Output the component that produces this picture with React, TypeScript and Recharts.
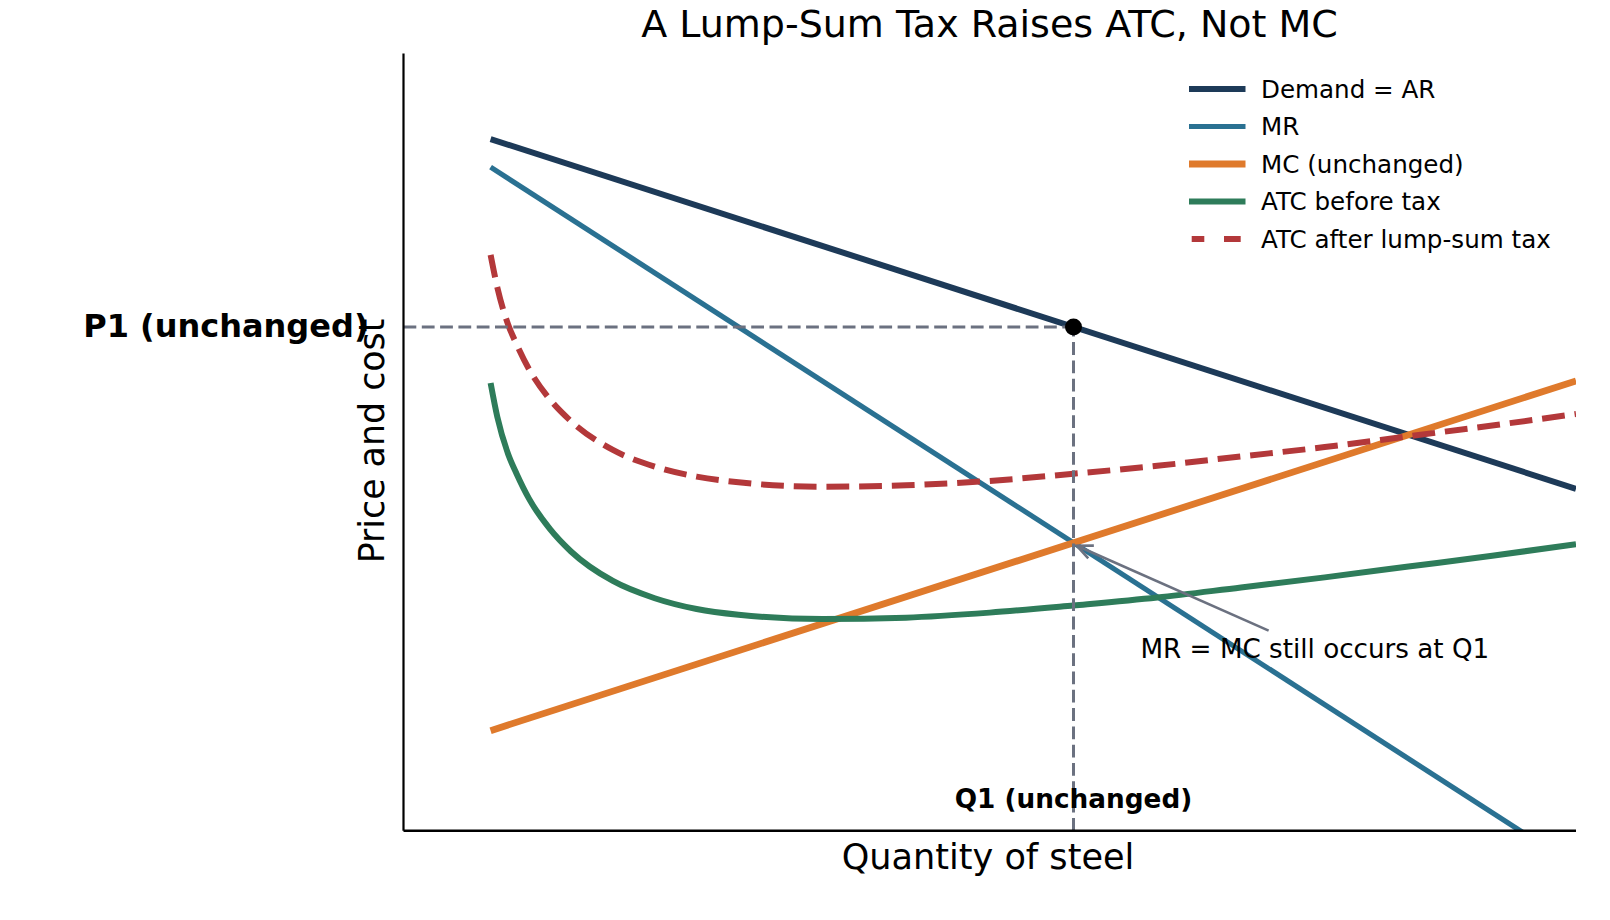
import React from 'react';
import { ComposedChart, Line, XAxis, YAxis, ReferenceLine, ReferenceDot } from 'recharts';

// Quantity and price ranges of the diagram
const qDomain: [number, number] = [0, 14];
const pDomain: [number, number] = [0, 108];

// Profit-maximising output and price (MR = MC)
const Q1 = 8;
const P1 = 70;

// Straight-line schedules (endpoints)
const demandQ = [1.04, 14];
const demandP = [96.1, 47.5];
const mrQ = [1.04, 14];
const mrP = [92.2, -5];
const mcQ = [1.04, 14];
const mcP = [13.9, 62.5];

// Average total cost, before and after the lump-sum tax
const atcQ = [1.04, 1.12, 1.25, 1.35, 1.5, 1.75, 2, 2.5, 3, 3.5, 4, 5, 6, 7, 8, 9, 10, 11, 12, 13, 14];
const atcBefore = [62.2, 57.5, 52.3, 49.6, 46.1, 41.9, 38.8, 34.7, 32.3, 30.8, 30.0, 29.4, 29.6, 30.3, 31.3, 32.4, 33.8, 35.2, 36.7, 38.2, 39.8];
const atcAfter = [80.0, 75.5, 70.3, 67.6, 64.1, 59.9, 56.9, 52.9, 50.6, 49.2, 48.4, 47.8, 48.0, 48.6, 49.6, 50.7, 52.0, 53.3, 54.8, 56.3, 57.9];

// Annotation anchors (data coordinates)
const arrowTail = { x: 10.33, y: 27.8 };
const arrowTip = { x: 8.04, y: 39.6 };
const noteAt = { x: 8.8, y: 24.0 };
const q1LabelAt = { x: Q1, y: 3.15 };

const TITLE = 'A Lump-Sum Tax Raises ATC, Not MC';
const X_LABEL = 'Quantity of steel';
const Y_LABEL = 'Price and cost';
const P1_LABEL = 'P1 (unchanged)';
const Q1_LABEL = 'Q1 (unchanged)';
const NOTE = 'MR = MC still occurs at Q1';

const COLORS = {
  demand: '#1d3a58',
  mr: '#2a7192',
  mc: '#df7a2c',
  atc: '#2e7c5a',
  atcTax: '#b3383a',
  guide: '#6b7180',
};

const legendItems = [
  { label: 'Demand = AR', color: COLORS.demand, width: 6, dashed: false },
  { label: 'MR', color: COLORS.mr, width: 5.2, dashed: false },
  { label: 'MC (unchanged)', color: COLORS.mc, width: 6.8, dashed: false },
  { label: 'ATC before tax', color: COLORS.atc, width: 6, dashed: false },
  { label: 'ATC after lump-sum tax', color: COLORS.atcTax, width: 6, dashed: true },
];

const zip = (qs: number[], ps: number[]) => qs.map((q, i) => ({ q, p: ps[i] }));

const demandData = zip(demandQ, demandP);
const mrData = zip(mrQ, mrP);
const mcData = zip(mcQ, mcP);
const atcData = zip(atcQ, atcBefore);
const atcTaxData = zip(atcQ, atcAfter);

const FONT = '"DejaVu Sans", Verdana, sans-serif';

const W = 1610;
const H = 920;
const Y_AXIS_W = 60;
const X_AXIS_H = 30;
const margin = { top: 53.4, right: 34, bottom: 89.3 - X_AXIS_H, left: 403.5 - Y_AXIS_W };

const renderArrow = (props: any) => {
  const { x1, y1, x2, y2 } = props;
  const ang = Math.atan2(y2 - y1, x2 - x1);
  const len = 17;
  const spread = 0.42;
  const bx1 = x2 - len * Math.cos(ang - spread);
  const by1 = y2 - len * Math.sin(ang - spread);
  const bx2 = x2 - len * Math.cos(ang + spread);
  const by2 = y2 - len * Math.sin(ang + spread);
  return (
    <g>
      <line x1={x1} y1={y1} x2={x2} y2={y2} stroke={COLORS.guide} strokeWidth={2.6} />
      <polyline
        points={`${bx1},${by1} ${x2},${y2} ${bx2},${by2}`}
        fill="none"
        stroke={COLORS.guide}
        strokeWidth={2.6}
      />
    </g>
  );
};

const renderNote = (props: any) => (
  <text x={props.cx} y={props.cy} fontFamily={FONT} fontSize={26.2} fill="#000" textAnchor="start">
    {NOTE}
  </text>
);

const renderQ1Label = (props: any) => (
  <text x={props.cx} y={props.cy} fontFamily={FONT} fontSize={26.3} fontWeight="bold" fill="#000" textAnchor="middle">
    {Q1_LABEL}
  </text>
);

const renderP1Tick = (props: any) => (
  <text x={props.x + 4} y={props.y + 10} fontFamily={FONT} fontSize={32} fontWeight="bold" fill="#000" textAnchor="end">
    {P1_LABEL}
  </text>
);

function Overlay() {
  const rowY = [89, 126.5, 164, 201.5, 239];
  return (
    <svg
      width={W}
      height={H}
      style={{ position: 'absolute', left: 0, top: 0, pointerEvents: 'none' }}
    >
      <text x={989.5} y={37} textAnchor="middle" fontFamily={FONT} fontSize={38} fill="#000">
        {TITLE}
      </text>
      <text x={988} y={869} textAnchor="middle" fontFamily={FONT} fontSize={35.1} fill="#000">
        {X_LABEL}
      </text>
      <text
        x={0}
        y={0}
        transform={`translate(384, 441) rotate(-90)`}
        textAnchor="middle"
        fontFamily={FONT}
        fontSize={34.8}
        fill="#000"
      >
        {Y_LABEL}
      </text>
      {legendItems.map((item, i) => (
        <g key={item.label}>
          {item.dashed ? (
            <g>
              <line x1={1191.7} x2={1204.3} y1={rowY[i]} y2={rowY[i]} stroke={item.color} strokeWidth={item.width} />
              <line x1={1224} x2={1240.7} y1={rowY[i]} y2={rowY[i]} stroke={item.color} strokeWidth={item.width} />
            </g>
          ) : (
            <line x1={1189} x2={1245.5} y1={rowY[i]} y2={rowY[i]} stroke={item.color} strokeWidth={item.width} />
          )}
          <text x={1261} y={rowY[i] + 8.6} fontFamily={FONT} fontSize={24.6} fill="#000">
            {item.label}
          </text>
        </g>
      ))}
    </svg>
  );
}

export default function App() {
  return (
    <div style={{ position: 'absolute', left: 0, top: 0, width: W, height: H, background: '#fff' }}>
      <ComposedChart width={W} height={H} margin={margin}>
        <XAxis
          type="number"
          dataKey="q"
          domain={qDomain}
          allowDataOverflow
          height={X_AXIS_H}
          ticks={[Q1]}
          tick={false}
          tickLine={false}
          axisLine={{ stroke: '#000', strokeWidth: 2.4 }}
        />
        <YAxis
          type="number"
          domain={pDomain}
          allowDataOverflow
          width={Y_AXIS_W}
          ticks={[P1]}
          tickSize={0}
          tickMargin={39}
          tickLine={false}
          tick={renderP1Tick}
          axisLine={{ stroke: '#000', strokeWidth: 2.2 }}
        />
        <Line data={demandData} dataKey="p" type="linear" stroke={COLORS.demand} strokeWidth={6}
          dot={false} activeDot={false} isAnimationActive={false} />
        <Line data={mrData} dataKey="p" type="linear" stroke={COLORS.mr} strokeWidth={5.2}
          dot={false} activeDot={false} isAnimationActive={false} />
        <Line data={mcData} dataKey="p" type="linear" stroke={COLORS.mc} strokeWidth={6.8}
          dot={false} activeDot={false} isAnimationActive={false} />
        <Line data={atcData} dataKey="p" type="monotone" stroke={COLORS.atc} strokeWidth={6}
          dot={false} activeDot={false} isAnimationActive={false} />
        <Line data={atcTaxData} dataKey="p" type="monotone" stroke={COLORS.atcTax} strokeWidth={6}
          strokeDasharray="22.8 9.9" dot={false} activeDot={false} isAnimationActive={false} />
        <ReferenceLine
          segment={[{ x: 0, y: P1 }, { x: Q1, y: P1 }]}
          stroke={COLORS.guide}
          strokeWidth={3}
          strokeDasharray="12.8 5.5"
        />
        <ReferenceLine
          segment={[{ x: Q1, y: 0 }, { x: Q1, y: P1 }]}
          stroke={COLORS.guide}
          strokeWidth={3}
          strokeDasharray="12.8 5.5"
        />
        <ReferenceLine segment={[arrowTail, arrowTip]} shape={renderArrow} />
        <ReferenceDot x={noteAt.x} y={noteAt.y} r={0} shape={renderNote} />
        <ReferenceDot x={q1LabelAt.x} y={q1LabelAt.y} r={0} shape={renderQ1Label} />
        <ReferenceDot x={Q1} y={P1} r={8.5} fill="#000" stroke="none" />
      </ComposedChart>
      <Overlay />
    </div>
  );
}
